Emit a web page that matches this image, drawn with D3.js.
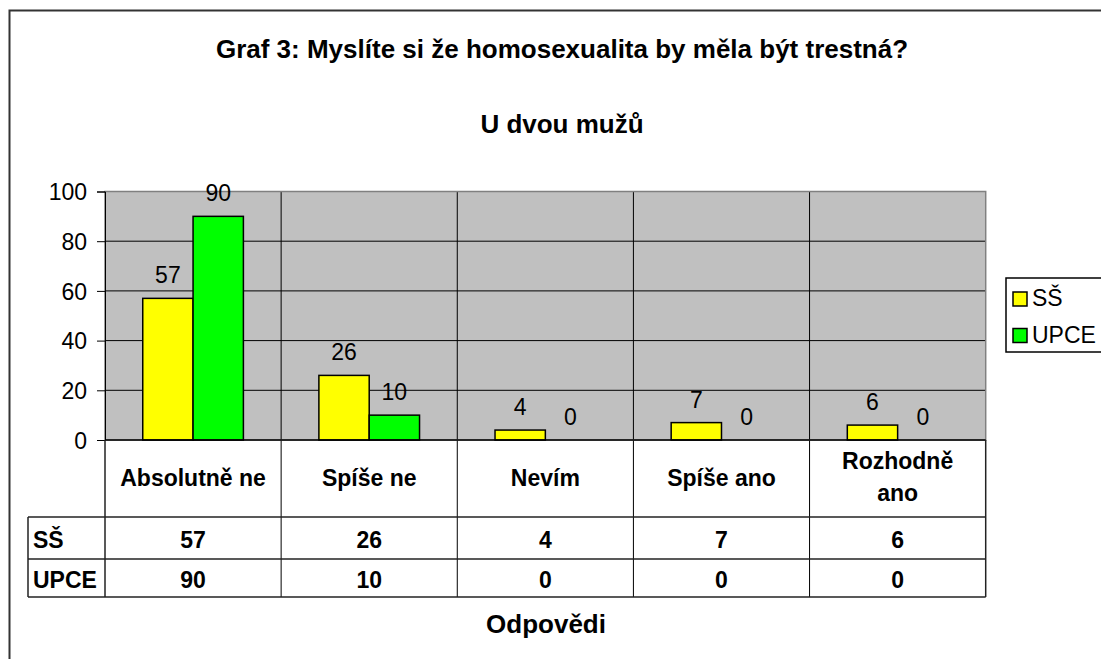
<!DOCTYPE html>
<html lang="cs">
<head>
<meta charset="utf-8">
<title>Graf 3</title>
<script src="https://cdn.jsdelivr.net/npm/d3@7"></script>
<style>
  body { margin: 0; background: #fff; }
  text { font-family: "Liberation Sans", Arial, sans-serif; fill: #000; }
</style>
</head>
<body>
<script>
// data
var categories = ["Absolutně ne", "Spíše ne", "Nevím", "Spíše ano", "Rozhodně ano"];
var seriesNames = ["SŠ", "UPCE"];
var valuesSS = [57, 26, 4, 7, 6];
var valuesUPCE = [90, 10, 0, 0, 0];
var yTicks = [0, 20, 40, 60, 80, 100];
var colors = ["#ffff00", "#00ff00"];

var W = 1101, H = 659;
var plot = { left: 105, right: 985.7, top: 191.5, bottom: 440 };

var svg = d3.select("body").append("svg")
  .attr("width", W).attr("height", H);

// outer frame (runs off the right and bottom edge)
svg.append("rect")
  .attr("x", 9.5).attr("y", 10.5)
  .attr("width", 1200).attr("height", 700)
  .attr("fill", "#fff").attr("stroke", "#333").attr("stroke-width", 2);

svg.append("text").attr("x", 562).attr("y", 58)
  .attr("text-anchor", "middle").attr("font-size", 26).attr("font-weight", "bold")
  .text("Graf 3: Myslíte si že homosexualita by měla být trestná?");
svg.append("text").attr("x", 562).attr("y", 133)
  .attr("text-anchor", "middle").attr("font-size", 26).attr("font-weight", "bold")
  .text("U dvou mužů");

var x = d3.scaleBand().domain(categories).range([plot.left, plot.right]);
var xs = d3.scaleBand().domain(seriesNames).range([0, x.bandwidth()]).paddingOuter(0.75);
var y = d3.scaleLinear().domain([0, 100]).range([plot.bottom, plot.top]);

// plot background
svg.append("rect")
  .attr("x", plot.left).attr("y", plot.top)
  .attr("width", plot.right - plot.left).attr("height", plot.bottom - plot.top)
  .attr("fill", "#c0c0c0");

// horizontal grid
svg.selectAll("line.grid").data(yTicks.filter(function(d) { return d > 0 && d < 100; }))
  .enter().append("line")
  .attr("x1", plot.left).attr("x2", plot.right)
  .attr("y1", function(d) { return y(d); }).attr("y2", function(d) { return y(d); })
  .attr("stroke", "#000").attr("stroke-width", 1);

// vertical dividers in plot + table
svg.selectAll("line.vdiv").data(categories.slice(1))
  .enter().append("line")
  .attr("x1", function(d) { return x(d); }).attr("x2", function(d) { return x(d); })
  .attr("y1", plot.top).attr("y2", 597)
  .attr("stroke", "#000").attr("stroke-width", 1);

// plot border
svg.append("rect")
  .attr("x", plot.left).attr("y", plot.top)
  .attr("width", plot.right - plot.left).attr("height", plot.bottom - plot.top)
  .attr("fill", "none").attr("stroke", "#808080").attr("stroke-width", 1.5);

// y axis
var yAxis = d3.axisLeft(y).tickValues(yTicks).tickSize(8).tickPadding(10);
var ga = svg.append("g").attr("transform", "translate(" + plot.left + ",0)").call(yAxis);
ga.select(".domain").attr("stroke", "#000");
ga.selectAll(".tick line").attr("stroke", "#000");
ga.selectAll(".tick text").attr("font-size", 23).attr("font-family", "Liberation Sans, Arial, sans-serif")
  .attr("fill", "#000").attr("dy", "0.36em");

// bars
var rows = [valuesSS, valuesUPCE];
seriesNames.forEach(function(s, si) {
  var g = svg.append("g");
  g.selectAll("rect").data(rows[si]).enter().append("rect")
    .filter(function(d) { return d > 0; })
    .attr("x", function(d, i) { return x(categories[i]) + xs(s); })
    .attr("y", function(d) { return y(d); })
    .attr("width", xs.bandwidth())
    .attr("height", function(d) { return y(0) - y(d); })
    .attr("fill", colors[si]).attr("stroke", "#000").attr("stroke-width", 1.5);
  g.selectAll("text").data(rows[si]).enter().append("text")
    .attr("x", function(d, i) { return x(categories[i]) + xs(s) + xs.bandwidth() / 2; })
    .attr("y", function(d) { return y(d) - 15; })
    .attr("text-anchor", "middle").attr("font-size", 23)
    .text(function(d) { return d; });
});

// baseline
svg.append("line").attr("x1", plot.left).attr("x2", plot.right)
  .attr("y1", plot.bottom).attr("y2", plot.bottom)
  .attr("stroke", "#000").attr("stroke-width", 1.5);

// data table
var tbl = { left: 28, row1: 517, row2: 559, bottom: 597 };
var tcol = "#222";
[tbl.row1, tbl.row2, tbl.bottom].forEach(function(yy) {
  svg.append("line").attr("x1", tbl.left).attr("x2", plot.right)
    .attr("y1", yy).attr("y2", yy).attr("stroke", tcol).attr("stroke-width", 1.5);
});
svg.append("line").attr("x1", tbl.left).attr("x2", tbl.left)
  .attr("y1", tbl.row1).attr("y2", tbl.bottom).attr("stroke", tcol).attr("stroke-width", 1.5);
[plot.left, plot.right].forEach(function(xx) {
  svg.append("line").attr("x1", xx).attr("x2", xx)
    .attr("y1", plot.bottom).attr("y2", tbl.bottom).attr("stroke", tcol).attr("stroke-width", 1.5);
});

// category labels
svg.selectAll("text.cat").data(categories).enter().append("text")
  .attr("class", "cat")
  .attr("text-anchor", "middle").attr("font-size", 23).attr("font-weight", "bold")
  .each(function(d) {
    var t = d3.select(this);
    var cx = x(d) + x.bandwidth() / 2;
    if (d === "Rozhodně ano") {
      t.append("tspan").attr("x", cx).attr("y", 469).text("Rozhodně");
      t.append("tspan").attr("x", cx).attr("y", 501).text("ano");
    } else {
      t.attr("x", cx).attr("y", 486).text(d);
    }
  });

// table rows
var rowY = [548, 588];
seriesNames.forEach(function(s, si) {
  svg.append("text").attr("x", 33).attr("y", rowY[si])
    .attr("font-size", 23).attr("font-weight", "bold").text(s);
  svg.selectAll("text.v" + si).data(rows[si]).enter().append("text")
    .attr("x", function(d, i) { return x(categories[i]) + x.bandwidth() / 2; })
    .attr("y", rowY[si])
    .attr("text-anchor", "middle").attr("font-size", 23).attr("font-weight", "bold")
    .text(function(d) { return d; });
});

// axis title
svg.append("text").attr("x", 546).attr("y", 633)
  .attr("text-anchor", "middle").attr("font-size", 26).attr("font-weight", "bold")
  .text("Odpovědi");

// legend
var lg = svg.append("g");
lg.append("rect").attr("x", 1006).attr("y", 278).attr("width", 150).attr("height", 74)
  .attr("fill", "#fff").attr("stroke", "#000").attr("stroke-width", 1.5);
var legY = [306, 342.5];
seriesNames.forEach(function(s, si) {
  lg.append("rect").attr("x", 1013).attr("y", legY[si] - 14).attr("width", 14).attr("height", 14)
    .attr("fill", colors[si]).attr("stroke", "#000").attr("stroke-width", 1.5);
  lg.append("text").attr("x", 1032).attr("y", legY[si]).attr("font-size", 23).text(s);
});
</script>
</body>
</html>
